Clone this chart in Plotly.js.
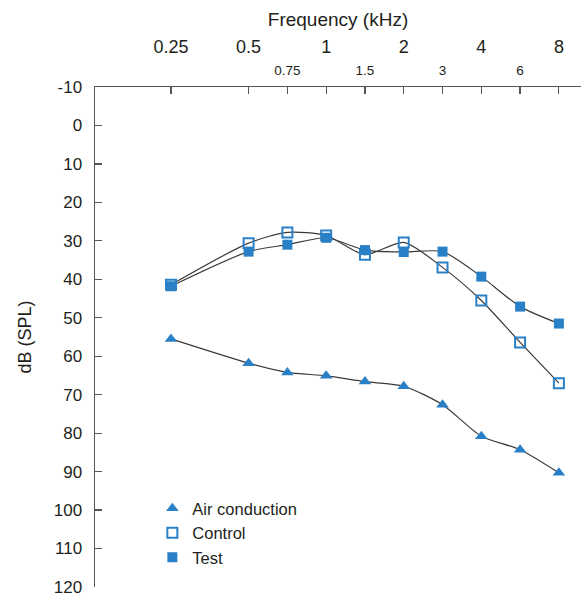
<!DOCTYPE html>
<html>
<head>
<meta charset="utf-8">
<script src="https://cdn.plot.ly/plotly-3.0.1.min.js"></script>
<style>html,body{margin:0;padding:0;background:#fff;}#chart{width:581px;height:598px;}</style>
</head>
<body>
<div id="chart"></div>
<script>
// Audiogram positions (equal spacing per audiometric convention)
const freqIndex  = [0, 2, 3, 4, 5, 6, 7, 8, 9, 10];
const freqLabels = ['0.25', '0.5', '0.75', '1', '1.5', '2', '3', '4', '6', '8'];
const majorLabels = ['0.25', '0.5', '1', '2', '4', '8'];
const minorLabels = ['0.75', '1.5', '3', '6'];

const airConduction = [55.5, 61.8, 64.2, 65.1, 66.6, 67.8, 72.6, 80.8, 84.3, 90.3];
const control       = [41.4, 30.6, 27.8, 28.6, 33.6, 30.4, 36.9, 45.5, 56.4, 67.0];
const test          = [41.8, 32.8, 31.0, 29.2, 32.4, 32.9, 32.8, 39.3, 47.1, 51.5];

const yTicks = [-10, 0, 10, 20, 30, 40, 50, 60, 70, 80, 90, 100, 110, 120];

const blue = '#2a80c6';
const lineColor = '#3a3a3a';
const font = 'Liberation Sans, Arial, Helvetica, sans-serif';
const textColor = '#231f20';

const majorIdx = majorLabels.map(l => freqIndex[freqLabels.indexOf(l)]);
const minorIdx = minorLabels.map(l => freqIndex[freqLabels.indexOf(l)]);

function lineTrace(y) {
  return {x: freqIndex, y: y, mode: 'lines', type: 'scatter', showlegend: false, hoverinfo: 'skip',
          line: {color: lineColor, width: 1.2, shape: 'spline', smoothing: 0.7}};
}
const traces = [
  lineTrace(airConduction), lineTrace(control), lineTrace(test),
  {x: freqIndex, y: airConduction, name: 'Air conduction', mode: 'markers', type: 'scatter',
   marker: {symbol: 'triangle-up', size: 11, color: blue}},
  {x: freqIndex, y: control, name: 'Control', mode: 'markers', type: 'scatter',
   marker: {symbol: 'square-open', size: 10, color: blue, line: {width: 2, color: blue}}},
  {x: freqIndex, y: test, name: 'Test', mode: 'markers', type: 'scatter',
   marker: {symbol: 'square', size: 10, color: blue}}
];

const layout = {
  width: 581, height: 598,
  margin: {l: 95, r: 0, t: 87, b: 11},
  paper_bgcolor: '#fff', plot_bgcolor: '#fff',
  font: {family: font, color: textColor, size: 17},
  showlegend: true,
  legend: {x: 0.118, y: 0.192, xanchor: 'left', yanchor: 'top', font: {size: 16.5, color: textColor},
           bgcolor: 'rgba(0,0,0,0)', itemwidth: 30, tracegroupgap: 0},
  title: {text: 'Frequency (kHz)', xref: 'paper', x: 0.5, xanchor: 'center',
          yref: 'container', y: 0.968, yanchor: 'middle', font: {size: 19, color: textColor}},
  xaxis: {
    side: 'top', range: [-1.96, 10.57], showgrid: false, zeroline: false,
    showline: true, linecolor: '#555', linewidth: 1.5,
    ticks: 'inside', ticklen: 7, tickcolor: '#555', tickwidth: 1.2,
    tickvals: freqIndex, ticktext: freqIndex.map(i => minorIdx.includes(i) ? freqLabels[freqIndex.indexOf(i)] : ''),
    tickfont: {size: 13.5, color: textColor}, ticklabelstandoff: 5
  },
  xaxis2: {
    overlaying: 'x', matches: 'x', side: 'top', range: [-1.96, 10.57], showgrid: false, zeroline: false,
    showline: false, ticks: '', tickvals: majorIdx, ticktext: majorLabels,
    tickfont: {size: 18, color: textColor}, ticklabelstandoff: 29
  },
  yaxis: {
    range: [120, -10], showgrid: false, zeroline: false,
    showline: true, linecolor: '#555', linewidth: 1.5,
    ticks: 'inside', ticklen: 7, tickcolor: '#555', tickwidth: 1.2,
    tickvals: yTicks, ticktext: yTicks.map(String), tickfont: {size: 17, color: textColor},
    ticklabelstandoff: 8,
    title: {text: 'dB (SPL)', font: {size: 18, color: textColor}, standoff: 17}
  }
};
// invisible helper trace so the second (major-label) axis is drawn
traces.push({x: [freqIndex[0]], y: [airConduction[0]], xaxis: 'x2', mode: 'markers',
             marker: {opacity: 0}, showlegend: false, hoverinfo: 'skip'});

Plotly.newPlot('chart', traces, layout, {staticPlot: true});
</script>
</body>
</html>
